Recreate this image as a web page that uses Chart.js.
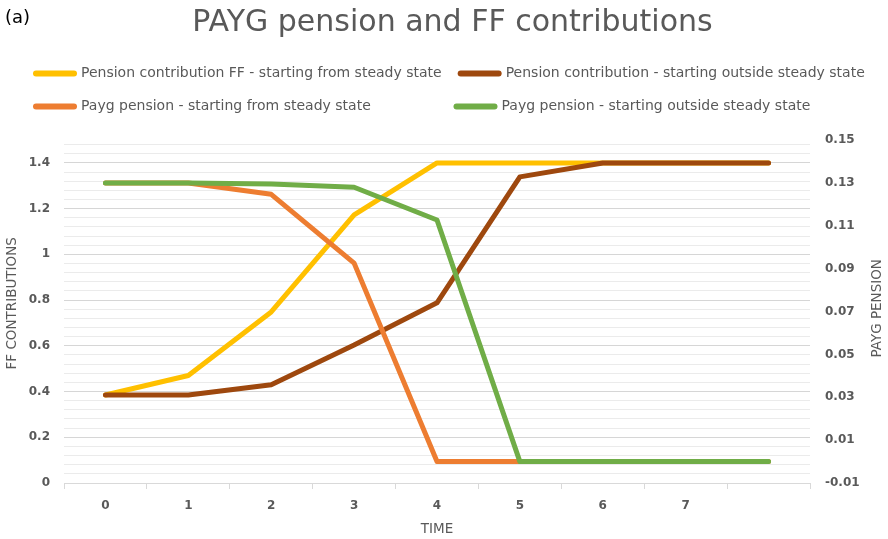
<!DOCTYPE html>
<html>
<head>
<meta charset="utf-8">
<title>PAYG pension and FF contributions</title>
<script src="https://cdn.jsdelivr.net/npm/chart.js@4/dist/chart.umd.min.js"></script>
<style>
  body { margin: 0; background: #fff; }
  #wrap { position: relative; width: 888px; height: 539px; }
  #panel {
    position: absolute; left: 5px; top: 8px;
    font: 18px "DejaVu Sans", sans-serif; line-height: 1; color: #000;
  }
</style>
</head>
<body>
<div id="wrap">
  <canvas id="chart"></canvas>
  <div id="panel">(a)</div>
</div>
<script>
// categories (last one has no label in the original)
const timeLabels = ["0", "1", "2", "3", "4", "5", "6", "7", ""];

// FF contributions (left axis)
const ffFromSteady = [0.385, 0.47, 0.748, 1.173, 1.4, 1.4, 1.4, 1.4, 1.4];
const ffOutsideSteady = [0.385, 0.385, 0.43, 0.604, 0.788, 1.339, 1.4, 1.4, 1.4];

// PAYG pension (right axis)
const paygFromSteady = [0.13, 0.13, 0.1247, 0.0926, 0, 0, 0, 0, 0];
const paygOutsideSteady = [0.13, 0.13, 0.1295, 0.128, 0.1127, 0, 0, 0, 0];

// axis ticks
const leftMajorStep = 0.2;
const leftMinorStep = 0.04;
const leftGridTop = 1.48;
const rightTicks = [-0.01, 0.01, 0.03, 0.05, 0.07, 0.09, 0.11, 0.13, 0.15];

const textColor = "#595959";
const fontFamily = '"DejaVu Sans", sans-serif';

const leftTicks = [];
for (let i = 0; i * leftMinorStep <= leftGridTop + 1e-9; i++) {
  leftTicks.push(+(i * leftMinorStep).toFixed(2));
}

function isMajor(v) {
  const r = v / leftMajorStep;
  return Math.abs(r - Math.round(r)) < 1e-6;
}

// right axis title reads bottom to top, like the left one
const rightTitle = {
  id: "rightTitle",
  afterDraw(chart) {
    const { ctx, chartArea } = chart;
    const scale = chart.scales.y1;
    ctx.save();
    ctx.translate(scale.right - 11, (chartArea.top + chartArea.bottom) / 2 + 5);
    ctx.rotate(-Math.PI / 2);
    ctx.font = "13.5px " + fontFamily;
    ctx.fillStyle = textColor;
    ctx.textAlign = "center";
    ctx.textBaseline = "middle";
    ctx.fillText("PAYG PENSION", 0, 0);
    ctx.restore();
  },
};

const lineStyle = {
  borderWidth: 5,
  borderCapStyle: "round",
  borderJoinStyle: "round",
  pointRadius: 0,
  pointHoverRadius: 0,
  tension: 0,
  fill: false,
};

new Chart(document.getElementById("chart"), {
  type: "line",
  data: {
    labels: timeLabels,
    datasets: [
      {
        label: "Pension contribution FF - starting from steady state",
        data: ffFromSteady,
        borderColor: "#FFC000",
        backgroundColor: "#FFC000",
        yAxisID: "y",
        order: 4,
        ...lineStyle,
      },
      {
        label: "Pension contribution - starting outside steady state",
        data: ffOutsideSteady,
        borderColor: "#9E480E",
        backgroundColor: "#9E480E",
        yAxisID: "y",
        order: 3,
        ...lineStyle,
      },
      {
        label: "Payg pension - starting from steady state",
        data: paygFromSteady,
        borderColor: "#ED7D31",
        backgroundColor: "#ED7D31",
        yAxisID: "y1",
        order: 2,
        ...lineStyle,
      },
      {
        label: "Payg pension - starting outside steady state",
        data: paygOutsideSteady,
        borderColor: "#70AD47",
        backgroundColor: "#70AD47",
        yAxisID: "y1",
        order: 1,
        ...lineStyle,
      },
    ],
  },
  options: {
    responsive: true,
    maintainAspectRatio: false,
    animation: false,
    layout: { padding: { left: 17, right: 0, top: 0, bottom: 0 } },
    plugins: {
      tooltip: { enabled: false },
      title: {
        display: true,
        text: "PAYG pension and FF contributions",
        color: textColor,
        font: { family: fontFamily, size: 30, weight: "normal", lineHeight: 1.2 },
        padding: { top: 5, bottom: 6.6 },
      },
      legend: {
        display: true,
        position: "top",
        align: "start",
        reverse: true,
        labels: {
          color: textColor,
          font: { family: fontFamily, size: 14 },
          usePointStyle: true,
          pointStyle: "line",
          pointStyleWidth: 38,
          padding: 19,
          generateLabels: (chart) => {
            const items = Chart.defaults.plugins.legend.labels.generateLabels(chart);
            const ctx = chart.ctx;
            ctx.save();
            ctx.font = "14px " + fontFamily;
            const first = items.find((it) => it.datasetIndex === 0);
            const target = ctx.measureText(first.text).width;
            items.forEach((it) => {
              const ds = chart.data.datasets[it.datasetIndex];
              it.strokeStyle = ds.borderColor;
              it.lineWidth = 6;
              it.lineCap = "round";
              if (it.datasetIndex === 2) {
                // keep the second column lined up, as in the original legend
                while (ctx.measureText(it.text + " ").width <= target) it.text += " ";
              }
            });
            ctx.restore();
            return items;
          },
        },
      },
    },
    scales: {
      x: {
        offset: true,
        afterFit: (scale) => { scale.height = 56; },
        grid: {
          offset: true,
          drawOnChartArea: false,
          drawTicks: true,
          tickLength: 6,
          color: "#d9d9d9",
        },
        border: { display: true, color: "#d9d9d9" },
        ticks: {
          padding: 10,
          color: textColor,
          autoSkip: false,
          maxRotation: 0,
          font: { family: fontFamily, size: 12, weight: "bold" },
        },
        title: {
          display: true,
          text: "TIME",
          color: textColor,
          font: { family: fontFamily, size: 13.5 },
          padding: { top: 0, bottom: 1 },
        },
      },
      y: {
        position: "left",
        min: 0,
        max: 1.572,
        afterFit: (scale) => { scale.width = 47; },
        afterBuildTicks: (scale) => {
          scale.ticks = leftTicks.map((v) => ({ value: v }));
        },
        grid: {
          drawTicks: false,
          color: (c) => (c.tick && isMajor(c.tick.value) ? "#d6d6d6" : "#ebebeb"),
        },
        border: { display: false },
        ticks: {
          autoSkip: false,
          padding: 14,
          color: textColor,
          font: { family: fontFamily, size: 12, weight: "bold" },
          callback: (v) => (isMajor(v) ? String(Math.round(v * 10) / 10) : ""),
        },
        title: {
          display: true,
          text: "FF CONTRIBUTIONS",
          color: textColor,
          font: { family: fontFamily, size: 13.5 },
          padding: { top: -13, bottom: 0 },
        },
      },
      y1: {
        position: "right",
        min: -0.01,
        max: 0.1577,
        afterFit: (scale) => { scale.width = 78; },
        afterBuildTicks: (scale) => {
          scale.ticks = rightTicks.map((v) => ({ value: v }));
        },
        grid: { display: false, drawTicks: false },
        border: { display: false },
        ticks: {
          autoSkip: false,
          padding: 15,
          color: textColor,
          font: { family: fontFamily, size: 12, weight: "bold" },
          callback: (v) => v.toFixed(2),
        },
      },
    },
  },
  plugins: [rightTitle],
});
</script>
</body>
</html>
